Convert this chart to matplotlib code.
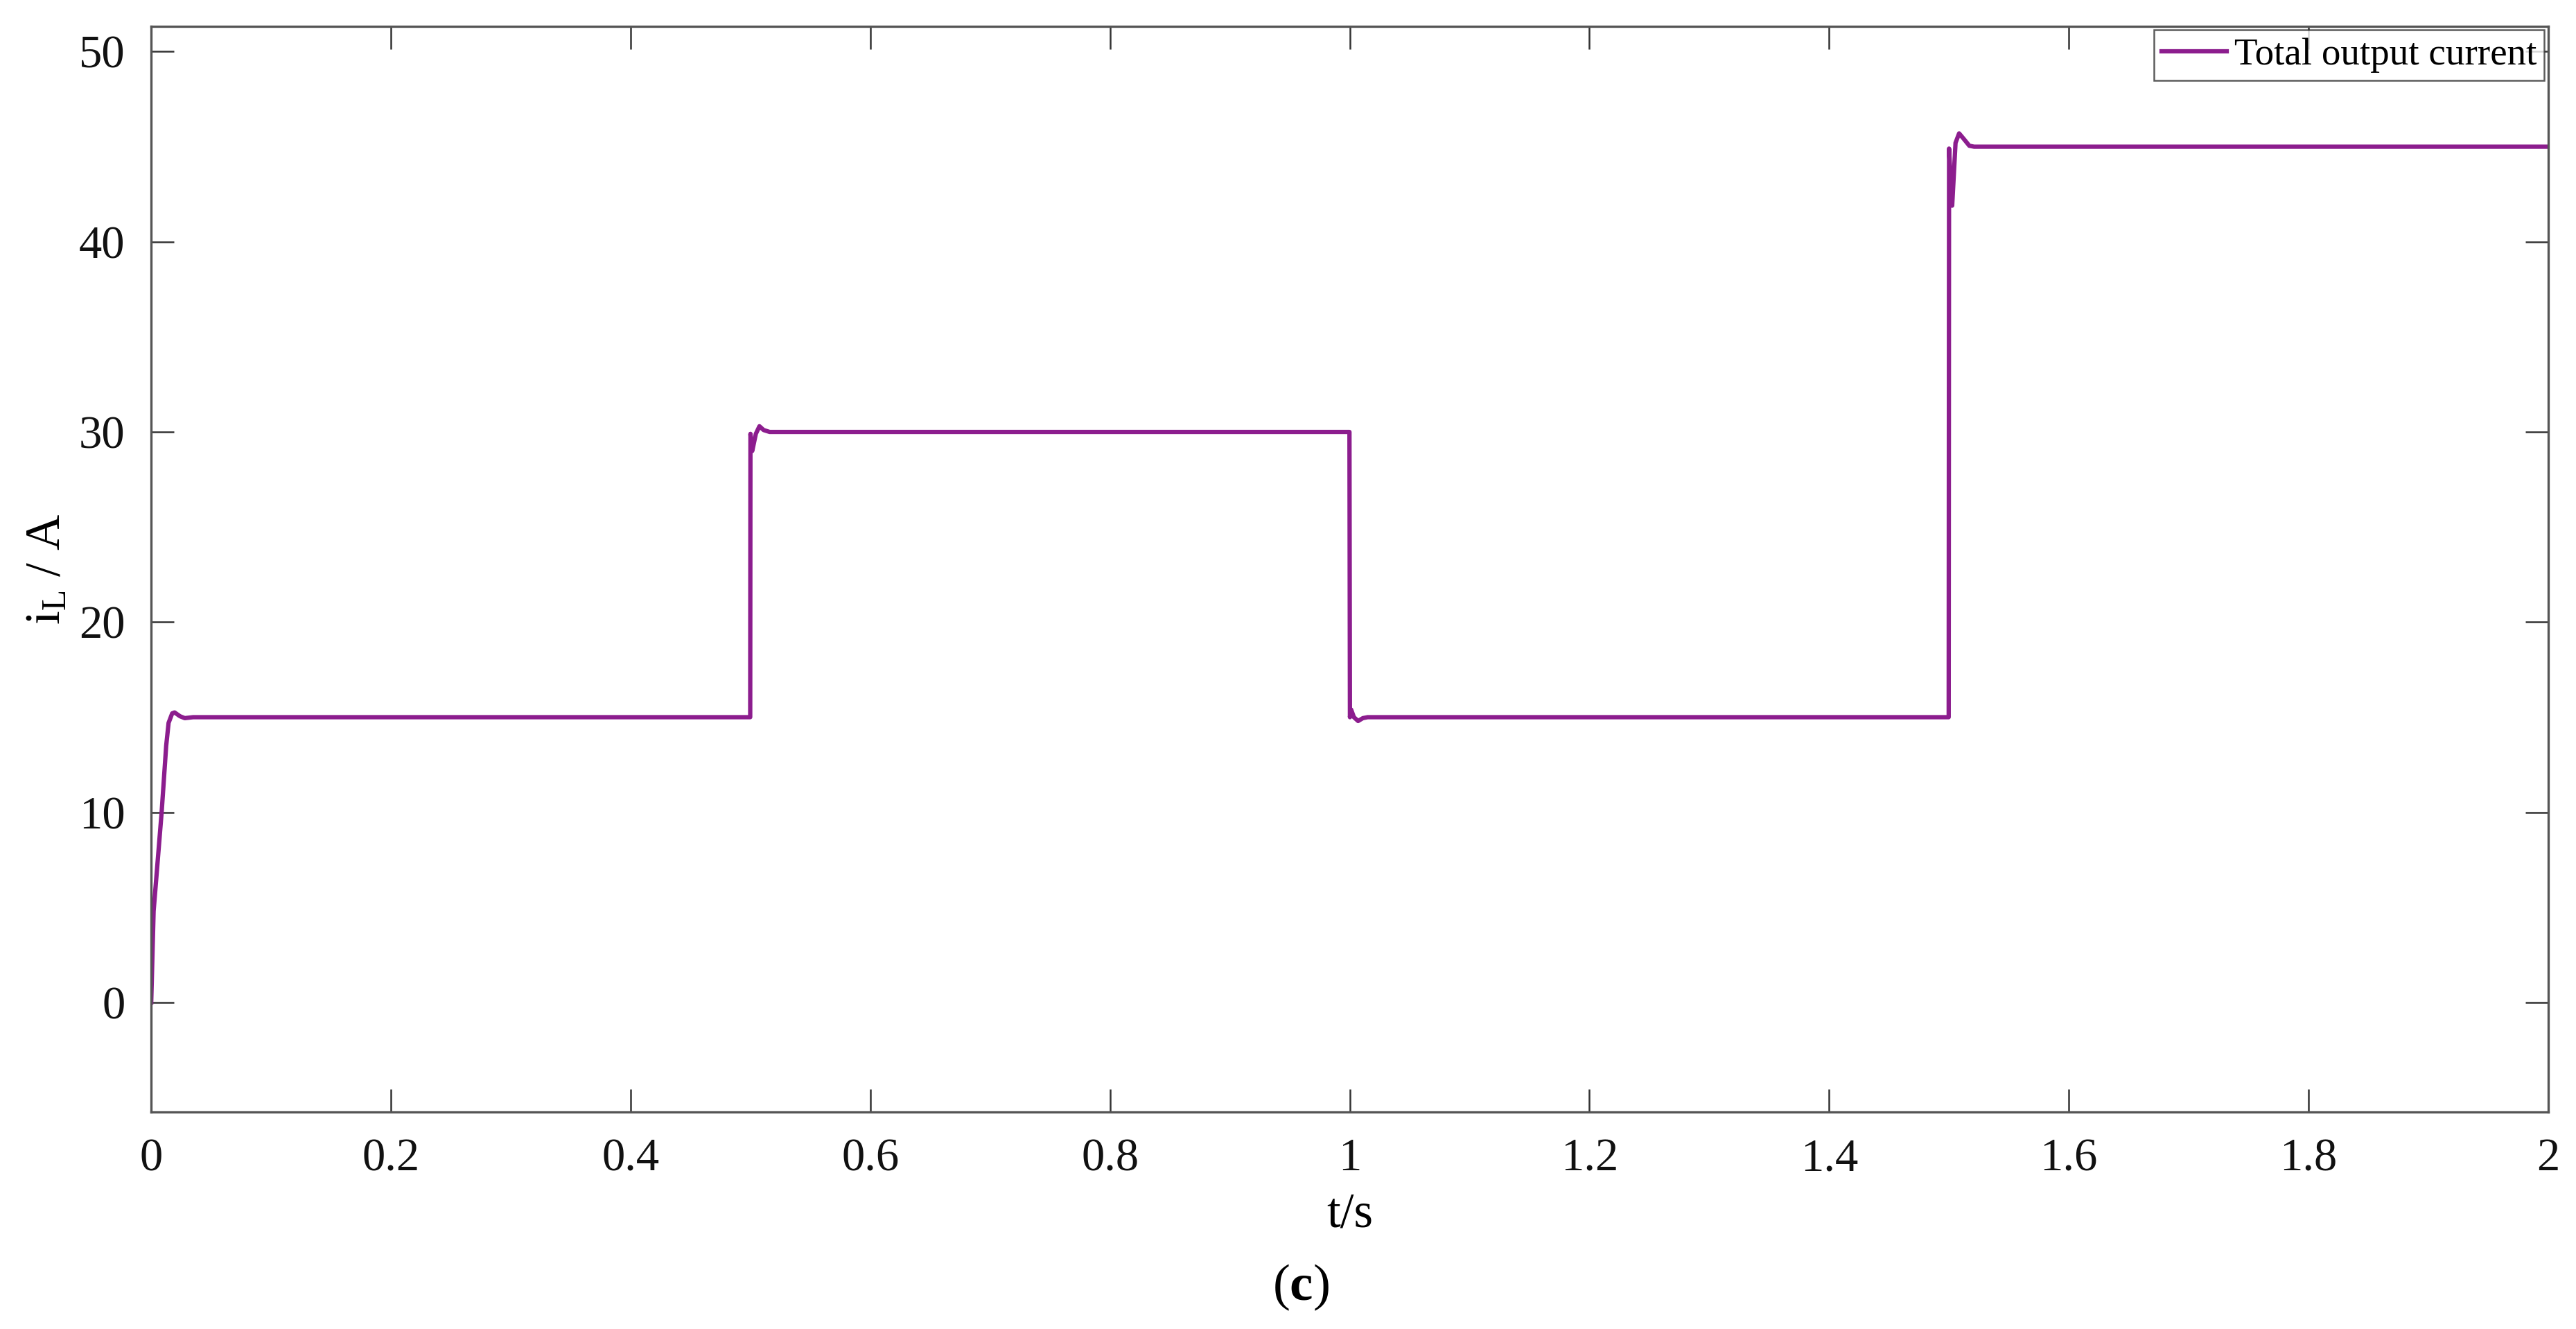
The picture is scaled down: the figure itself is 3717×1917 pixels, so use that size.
import numpy as np
import matplotlib
matplotlib.use('Agg')
import matplotlib.pyplot as plt

# values (t in s, i in A)
t_start = [0.0, 0.002, 0.0087, 0.0125, 0.0145, 0.0175, 0.0195, 0.024, 0.028, 0.035]
i_start = [0.0, 4.8, 10.0, 13.5, 14.7, 15.2, 15.25, 15.05, 14.95, 15.0]

t_step1 = [0.4998, 0.5000, 0.5008, 0.5015, 0.5045, 0.5075, 0.511, 0.516]
i_step1 = [15.0, 29.9, 29.3, 29.0, 29.9, 30.3, 30.1, 30.0]

t_step2 = [0.9998, 1.0002, 1.0012, 1.0035, 1.007, 1.011, 1.015]
i_step2 = [30.0, 15.0, 15.4, 15.0, 14.8, 14.95, 15.0]

t_step3 = [1.4998, 1.5001, 1.5012, 1.5027, 1.5055, 1.5085, 1.5125, 1.517, 1.521]
i_step3 = [15.0, 44.9, 43.5, 41.9, 45.2, 45.7, 45.4, 45.05, 45.0]

t_end = [2.0]
i_end = [45.0]

t = np.array(t_start + t_step1 + t_step2 + t_step3 + t_end)
i_total = np.array(i_start + i_step1 + i_step2 + i_step3 + i_end)

plt.rcParams['font.family'] = ['Liberation Serif', 'DejaVu Serif']
plt.rcParams['mathtext.fontset'] = 'custom'
plt.rcParams['mathtext.rm'] = 'Liberation Serif'
plt.rcParams['mathtext.it'] = 'Liberation Serif'
plt.rcParams['mathtext.bf'] = 'Liberation Serif:bold'

fig = plt.figure(figsize=(3717 / 300, 1917 / 300), dpi=300)
ax = fig.add_axes([0.0587, 0.1633, 0.9305, 0.8169])

ax.plot(t, i_total, color='#8c1d8e', linewidth=1.5, label='Total output current')

ax.set_xlim(0, 2)
ax.set_ylim(-5.76, 51.33)
ax.set_xticks(np.arange(0, 2.01, 0.2))
ax.set_xticklabels(['0', '0.2', '0.4', '0.6', '0.8', '1', '1.2', '1.4', '1.6', '1.8', '2'])
ax.set_yticks([0, 10, 20, 30, 40, 50])

ax.tick_params(direction='in', length=8, width=0.6, colors='#333333',
               labelcolor='#111111', labelsize=16, top=True, right=True, pad=9)
for s in ax.spines.values():
    s.set_color('#555555')
    s.set_linewidth(0.8)

ax.set_xlabel('t/s', fontsize=17, labelpad=4)
ax.set_ylabel(r'i$_{\mathrm{L}}$ / A', fontsize=17, labelpad=3)

leg = ax.legend(loc='upper right', fontsize=13.2, frameon=True, fancybox=False,
                borderaxespad=0.1, handlelength=1.7, handletextpad=0.2,
                borderpad=0.2)
leg.get_frame().set_edgecolor('#333333')
leg.get_frame().set_linewidth(0.6)

fig.text(0.505, 0.031, r'($\mathbf{c}$)', fontsize=18, ha='center', va='center')

fig.savefig('out.png', dpi=300)
